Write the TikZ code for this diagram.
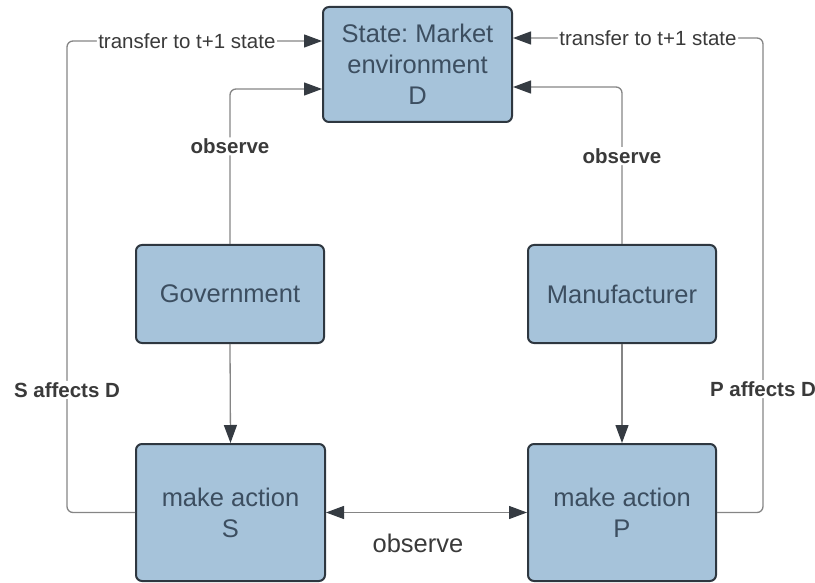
\documentclass[tikz,border=0pt]{standalone}
\usepackage{fontspec}
\setmainfont{Liberation Sans}
\usetikzlibrary{arrows.meta}
\definecolor{boxfill}{HTML}{A6C3DA}
\definecolor{boxline}{HTML}{2E3740}
\definecolor{boxtext}{HTML}{3C4E60}
\definecolor{conline}{HTML}{858585}
\definecolor{tipcol}{HTML}{353B42}
\definecolor{labtext}{HTML}{3A3A3A}
\frenchspacing
\begin{document}
\begin{tikzpicture}[x=1pt,y=-1pt,
  blk/.style={draw=boxline,line width=2pt,fill=boxfill,rounded corners=6pt,
    text=boxtext,font=\fontsize{25.5}{31}\selectfont,align=center,inner sep=0pt},
  tip/.tip={Triangle[length=18pt,width=13pt,color=tipcol,fill=tipcol]},
  conn/.style={draw=conline,line width=1.3pt,rounded corners=6pt,-tip},
  conn2/.style={draw=conline,line width=1.3pt,tip-tip},
  lab/.style={fill=white,text=labtext,font=\fontsize{20.5}{24}\selectfont,inner sep=1.5pt},
  blab/.style={lab,font=\fontsize{20.5}{24}\selectfont\bfseries}]
\useasboundingbox (0,0) rectangle (815,583);
\node[blk,minimum width=189pt,minimum height=115pt] (state) at (417.5,64.5) {State: Market\\environment\\D};
\node[blk,minimum width=188pt,minimum height=98pt] (gov) at (230,294) {Government};
\node[blk,minimum width=188pt,minimum height=98pt] (man) at (622,294) {Manufacturer};
\node[blk,minimum width=189pt,minimum height=137pt] (acts) at (230.5,512.5) {make action\\S};
\node[blk,minimum width=188pt,minimum height=137pt] (actp) at (622,512.5) {make action\\P};
% left loop
\coordinate (L1) at (67,512.5);
\coordinate (L2) at (67,41);
\draw[conn] (acts.west) -- (L1) -- node[blab,pos=0.26]{S affects D} (L2) -- node[lab,pos=0.47]{transfer to t+1 state} (L2 -| state.west);
% right loop
\coordinate (R1) at (763,512.5);
\coordinate (R2) at (763,38);
\draw[conn] (actp.east) -- (R1) -- node[blab,pos=0.26]{P affects D} (R2) -- node[lab,pos=0.46]{transfer to t+1 state} (R2 -| state.east);
% observe links
\coordinate (G1) at (230,89);
\draw[conn] (gov.north) -- node[blab,pos=0.63]{observe} (G1) -- (G1 -| state.west);
\coordinate (M1) at (622,87);
\draw[conn] (man.north) -- node[blab,pos=0.56]{observe} (M1) -- (M1 -| state.east);
% actions
\draw[conn] (gov.south) -- (acts.north);
\draw[conn] (man.south) -- (actp.north);
\draw[conn2] (acts.east) -- (actp.west);
\node[text=labtext,font=\fontsize{25.5}{31}\selectfont] (obs) at (418,543) {observe};
\end{tikzpicture}
\end{document}
